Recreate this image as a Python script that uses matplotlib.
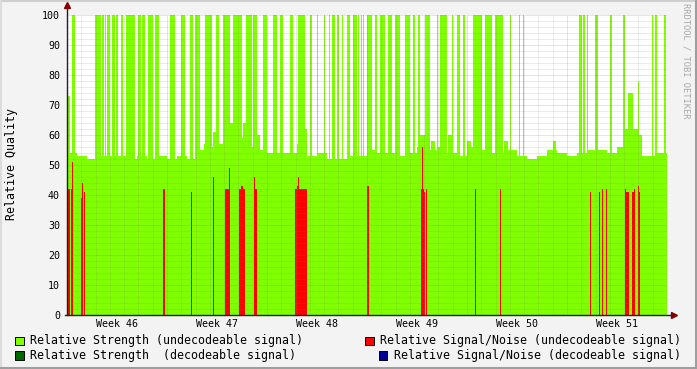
import matplotlib.pyplot as plt
import numpy as np
from matplotlib.patches import Rectangle
from matplotlib.lines import Line2D

# 600 samples across six weeks (one sample ~ 1.7 hours)
n_samples = 600
samples_per_week = 100
week_labels = ["Week 46", "Week 47", "Week 48", "Week 49", "Week 50", "Week 51"]

# relative strength baseline, one value per block of 10 samples
strength_base = [54, 53, 52, 53, 53, 53, 52, 53, 52, 53,
                 52, 53, 52, 55, 56, 57, 56, 59, 56, 55,
                 54, 54, 54, 57, 53, 54, 52, 52, 53, 53,
                 55, 54, 54, 53, 54, 56, 55, 56, 54, 53,
                 56, 55, 54, 54, 55, 53, 52, 53, 55, 54,
                 53, 54, 55, 55, 54, 56, 61, 53, 53, 54]

# strength peaks below saturation (start sample, end sample, value)
strength_peaks = [(0, 3, 73), (137, 140, 57), (146, 149, 61), (163, 166, 64),
                  (176, 179, 64), (190, 193, 60), (235, 240, 62), (353, 358, 60),
                  (364, 368, 58), (381, 385, 60), (400, 404, 58), (437, 441, 58),
                  (486, 489, 58), (558, 561, 62), (561, 566, 74), (566, 571, 62),
                  (571, 572, 78), (572, 575, 60)]

# samples where strength is saturated at 100 (start, end)
strength_full = [(5, 8), (28, 34), (35, 37), (38, 39), (40, 43), (45, 48), (49, 51),
                 (54, 56), (59, 68), (71, 74), (75, 78), (81, 86), (88, 92), (103, 108),
                 (114, 118), (123, 126), (128, 133), (138, 145), (149, 152), (156, 163),
                 (166, 175), (179, 185), (186, 190), (196, 200), (206, 210), (213, 216),
                 (223, 226), (231, 238), (243, 245), (250, 251), (257, 258), (262, 263),
                 (265, 268), (270, 272), (275, 276), (280, 283), (286, 290), (291, 292),
                 (294, 295), (296, 297), (300, 305), (308, 310), (313, 318), (321, 325),
                 (328, 333), (338, 343), (346, 348), (351, 353), (358, 363), (370, 371),
                 (373, 380), (385, 386), (390, 393), (396, 398), (406, 415), (418, 425),
                 (428, 436), (443, 444), (452, 453), (456, 457), (512, 515), (516, 518),
                 (520, 521), (528, 531), (543, 545), (556, 558), (585, 586), (588, 590),
                 (597, 599)]

# relative signal/noise, undecodeable (start, end, value)
snr_bars = [(0, 3, 42), (4, 5, 42), (5, 6, 51), (14, 15, 39), (15, 16, 44), (17, 18, 41),
            (96, 98, 42), (124, 125, 41), (146, 147, 46), (158, 162, 42), (162, 163, 49),
            (172, 174, 42), (174, 176, 43), (176, 178, 42), (187, 188, 46), (188, 190, 42),
            (228, 230, 42), (230, 231, 43), (231, 232, 46), (232, 240, 42), (300, 302, 43),
            (354, 355, 42), (355, 356, 56), (356, 357, 42), (357, 358, 41), (359, 360, 42),
            (408, 409, 42), (433, 434, 42), (523, 524, 41), (532, 533, 41), (535, 536, 42),
            (539, 540, 42), (558, 559, 42), (559, 562, 41), (565, 567, 41), (567, 568, 42),
            (571, 572, 43), (572, 573, 41)]

strength = np.repeat(np.array(strength_base, dtype=float), 10)
for a, b, v in strength_peaks:
    strength[a:b] = v
for a, b in strength_full:
    strength[a:b] = 100
snr = np.zeros(n_samples)
for a, b, v in snr_bars:
    snr[a:b] = v
edges = np.arange(n_samples + 1)

W, H = 697, 369
BG = "#f3f3f3"
MONO = "DejaVu Sans Mono"
GREEN, DKGREEN, RED, BLUE = "#80ff00", "#006600", "#ff0000", "#000099"

fig = plt.figure(figsize=(W / 100, H / 100), dpi=100, facecolor=BG)
ax = fig.add_axes([67 / W, (H - 315) / H, 600 / W, 300 / H])
ax.set_facecolor("white")

ax.stairs(strength, edges, fill=True, color=GREEN, linewidth=0, zorder=1)
ax.stairs(snr, edges, fill=True, color=RED, linewidth=0, zorder=2)

ax.set_xlim(0, n_samples)
ax.set_ylim(0, 100)

# grid on top of the data, rrdtool style dotted lines
dot = (0, (1, 1))
minor = dict(color="#808080", alpha=0.3, lw=0.72, ls=dot, zorder=5)
major = dict(color="#ff4040", alpha=0.4, lw=0.72, ls=dot, zorder=5)
for v in range(2, 101, 2):
    ax.axhline(v, **(major if v % 10 == 0 else minor))
for d in range(1, 42):
    ax.axvline(d * samples_per_week / 7, **(major if d % 7 == 0 else minor))

for s in ax.spines.values():
    s.set_visible(False)

ax.set_yticks(range(0, 101, 10))
ax.set_xticks([samples_per_week * (i + 0.5) for i in range(len(week_labels))])
ax.set_xticklabels(week_labels)
ax.tick_params(axis="y", length=0, pad=5, labelsize=7.2)
ax.tick_params(axis="x", length=0, pad=3, labelsize=7.2)
for lab in ax.get_xticklabels() + ax.get_yticklabels():
    lab.set_fontfamily(MONO)

# axis lines with arrows
ax.plot([0, 0], [0, 102.5], color="#202020", lw=1, clip_on=False, zorder=6)
ax.plot([-2, n_samples + 5], [0, 0], color="#202020", lw=1, clip_on=False, zorder=6)
ax.plot([0], [103.5], marker="^", ms=5, color="#800000", clip_on=False, zorder=7)
ax.plot([n_samples + 7], [0], marker=">", ms=5, color="#800000", clip_on=False, zorder=7)

fig.text(12 / W, 1 - 164 / H, "Relative Quality", rotation=90, ha="center", va="center",
         fontsize=8.4, family=MONO)
fig.text(686 / W, 1 - 61 / H, "RRDTOOL / TOBI OETIKER", rotation=270, ha="center",
         va="center", fontsize=6.3, family=MONO, color="#a8a8a8")

# legend
legend_rows = [
    (15, 340.5, GREEN, "Relative Strength (undecodeable signal)"),
    (15, 355, DKGREEN, "Relative Strength  (decodeable signal)"),
    (365, 340.5, RED, "Relative Signal/Noise (undecodeable signal)"),
    (379, 355, BLUE, "Relative Signal/Noise (decodeable signal)"),
]
for x, y, c, txt in legend_rows:
    fig.add_artist(Rectangle((x / W, 1 - (y + 4.5) / H), 8.5 / W, 8.5 / H,
                             transform=fig.transFigure, facecolor=c,
                             edgecolor="black", lw=0.7))
    fig.text((x + 15) / W, 1 - y / H, txt, ha="left", va="center",
             fontsize=8.4, family=MONO)

# canvas frame
fig.add_artist(Line2D([0, 1], [1 - 1 / H, 1 - 1 / H], transform=fig.transFigure,
                      color="#cfcfcf", lw=1.5))
fig.add_artist(Line2D([1 / W, 1 / W], [0, 1], transform=fig.transFigure,
                      color="#dcdcdc", lw=1.5))
fig.add_artist(Line2D([0, 1], [1.5 / H, 1.5 / H], transform=fig.transFigure,
                      color="#9e9e9e", lw=2.2))
fig.add_artist(Line2D([1 - 1.5 / W, 1 - 1.5 / W], [0, 1], transform=fig.transFigure,
                      color="#9e9e9e", lw=2.2))

fig.savefig("out.png", dpi=100, facecolor=BG)
